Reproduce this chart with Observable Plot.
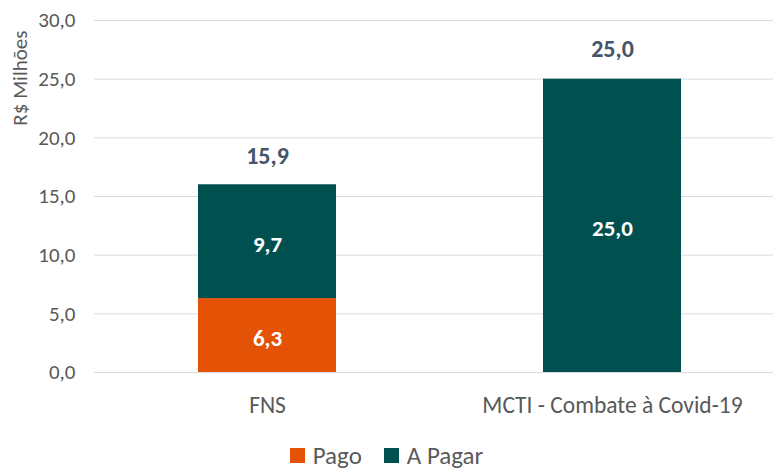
<!DOCTYPE html>
<html><head><meta charset="utf-8">
<script src="https://cdn.jsdelivr.net/npm/d3@7"></script>
<script src="https://cdn.jsdelivr.net/npm/@observablehq/plot@0.6"></script>
<style>
body{margin:0;background:#fff;font-family:Carlito, Lato, "Open Sans", sans-serif;}
#chart svg{display:block;}
#legend{display:flex;justify-content:center;align-items:center;gap:22px;font-size:25px;color:#595959;height:30px;margin-left:0px;}
#legend span.item{display:flex;align-items:center;gap:8px;}
#legend span.sw{display:inline-block;width:15px;height:15px;}
</style></head><body><div id="chart"></div><div id="legend"></div><script>
const categories = ["FNS", "MCTI - Combate à Covid-19"];
const series = ["Pago", "A Pagar"];
const pago = [6.3, 0];
const aPagar = [9.7, 25.0];
const totals = [15.9, 25.0];
const yTicks = [0, 5, 10, 15, 20, 25, 30];
const colors = ["#E35205", "#00504F"];
const yLabel = "R$ Milhões";

const rows = categories.flatMap((c, i) => [
  {cat: c, series: series[0], value: pago[i]},
  {cat: c, series: series[1], value: aPagar[i]}
]).filter(d => d.value > 0);
const fmt = v => v.toFixed(1).replace(".", ",");
const font = "Carlito, Lato, 'Open Sans', sans-serif";

const plot = Plot.plot({
  width: 773, height: 440,
  marginLeft: 94, marginRight: 0, marginTop: 20, marginBottom: 68,
  style: {fontFamily: font, background: "white", overflow: "visible"},
  x: {domain: categories, range: [94, 784], paddingInner: 0.6, paddingOuter: 0.3, label: null},
  y: {domain: [0, 30], label: null},
  color: {domain: series, range: colors},
  marks: [
    Plot.ruleY(yTicks, {stroke: "#D9DDE3", strokeWidth: 1}),
    Plot.axisY({ticks: yTicks, tickSize: 0, tickPadding: 19, tickFormat: fmt, fontSize: 21, fill: "#595959", label: null}),
    Plot.axisX({tickSize: 0, tickPadding: 24, fontSize: 23.5, fill: "#595959", label: null}),
    Plot.barY(rows, Plot.stackY({x: "cat", y: "value", fill: "series"})),
    Plot.text(rows, Plot.stackY({x: "cat", y: "value", z: "series", text: d => fmt(d.value), fill: "white", fontWeight: "bold", fontSize: 23, dy: 3})),
    Plot.text(categories, {x: d => d, y: (d, i) => totals[i], text: (d, i) => fmt(totals[i]), dy: -30, fill: "#44546A", fontWeight: "bold", fontSize: 24}),
    Plot.text([yLabel], {frameAnchor: "top-left", rotate: -90, textAnchor: "end", dx: -82, dy: 10, fontSize: 21, fill: "#595959"})
  ]
});
document.getElementById("chart").appendChild(plot);

const legend = document.getElementById("legend");
series.forEach((s, i) => {
  const item = document.createElement("span");
  item.className = "item";
  const sw = document.createElement("span");
  sw.className = "sw";
  sw.style.background = colors[i];
  item.appendChild(sw);
  item.appendChild(document.createTextNode(s));
  legend.appendChild(item);
});
</script></body></html>
